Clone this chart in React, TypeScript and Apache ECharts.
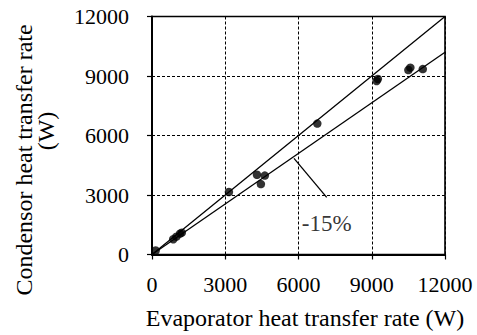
import React, { useEffect, useRef } from "react";
import * as echarts from "echarts";

const xTicks = [0, 3000, 6000, 9000, 12000];
const yTicks = [0, 3000, 6000, 9000, 12000];
const measured: [number, number][] = [
  [150, 200],
  [870, 770],
  [1000, 900],
  [1150, 1050],
  [1220, 1100],
  [3150, 3150],
  [4300, 4020],
  [4620, 3980],
  [4460, 3550],
  [6770, 6600],
  [9200, 8750],
  [9250, 8850],
  [10500, 9300],
  [10580, 9420],
  [11090, 9350],
];
const equalLine: [number, number][] = [
  [0, 0],
  [12000, 12000],
];
const minus15Line: [number, number][] = [
  [0, 0],
  [12000, 10200],
];
const leader: [number, number][] = [
  [5816, 4850],
  [7155, 2884],
];
const annotationLabel = "-15%";
const annotationPos: [number, number][] = [[7155, 1588]];
const xTitle = "Evaporator heat transfer rate (W)";
const yTitle1 = "Condensor heat transfer rate";
const yTitle2 = "(W)";

const FONT = "Liberation Serif";

export default function App() {
  const ref = useRef<HTMLDivElement>(null);
  useEffect(() => {
    if (!ref.current) return;
    document.body.style.margin = "0";
    const chart = echarts.init(ref.current, null, { renderer: "svg" });
    const axisCommon = {
      min: 0,
      max: 12000,
      interval: 3000,
      axisLine: { show: true, lineStyle: { color: "#000", width: 2 } },
      axisTick: { show: true, inside: false, length: 5, lineStyle: { color: "#000", width: 1.2 } },
      splitLine: { show: true, lineStyle: { color: "#000", type: [3, 2], width: 1 } },
    };
    const titleStyle = {
      fill: "#000",
      fontFamily: FONT,
      fontSize: 24,
      align: "center",
      verticalAlign: "middle",
    };
    chart.setOption({
      animation: false,
      backgroundColor: "#fff",
      textStyle: { fontFamily: FONT },
      grid: {
        left: 152,
        top: 16.5,
        width: 293,
        height: 238,
        show: true,
        borderColor: "#000",
        borderWidth: 1.6,
        backgroundColor: "transparent",
      },
      xAxis: {
        type: "value",
        ...axisCommon,
        axisLabel: {
          color: "#000",
          fontFamily: FONT,
          fontSize: 22,
          margin: 19,
          formatter: (v: number) => (xTicks.includes(v) ? String(v) : ""),
        },
      },
      yAxis: {
        type: "value",
        ...axisCommon,
        axisLabel: {
          color: "#000",
          fontFamily: FONT,
          fontSize: 22,
          margin: 23,
          formatter: (v: number) => (yTicks.includes(v) ? String(v) : ""),
        },
      },
      graphic: [
        {
          type: "text",
          x: 305,
          y: 318,
          style: { ...titleStyle, text: xTitle },
        },
        {
          type: "text",
          x: 24,
          y: 160,
          rotation: Math.PI / 2,
          style: { ...titleStyle, text: yTitle1 },
        },
        {
          type: "text",
          x: 46,
          y: 131,
          rotation: Math.PI / 2,
          style: { ...titleStyle, text: yTitle2 },
        },
      ],
      series: [
        {
          type: "line",
          data: equalLine,
          symbol: "none",
          lineStyle: { color: "#000", width: 1.3 },
          z: 3,
        },
        {
          type: "line",
          data: minus15Line,
          symbol: "none",
          lineStyle: { color: "#000", width: 1.3 },
          z: 3,
        },
        {
          type: "line",
          data: leader,
          symbol: "none",
          lineStyle: { color: "#000", width: 1.3 },
          z: 3,
        },
        {
          type: "scatter",
          data: annotationPos,
          symbolSize: 0,
          label: {
            show: true,
            position: "inside",
            formatter: () => annotationLabel,
            color: "#000",
            fontFamily: FONT,
            fontSize: 23,
          },
          z: 4,
        },
        {
          type: "scatter",
          data: measured,
          symbol: "circle",
          symbolSize: 8.5,
          itemStyle: { color: "#000" },
          z: 5,
        },
      ],
    });
    return () => chart.dispose();
  }, []);
  return <div ref={ref} style={{ width: 477, height: 335 }} />;
}
